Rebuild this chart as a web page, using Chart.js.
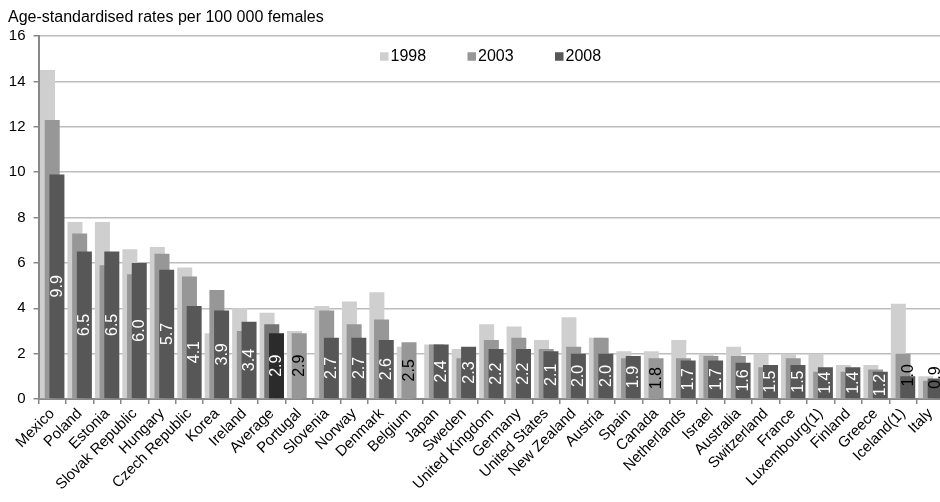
<!DOCTYPE html>
<html>
<head>
<meta charset="utf-8">
<title>Age-standardised rates per 100 000 females</title>
<script src="https://cdn.jsdelivr.net/npm/chart.js@4/dist/chart.umd.min.js"></script>
<style>
  html, body { margin: 0; padding: 0; background: #ffffff; overflow: hidden; }
  #wrap { position: relative; width: 950px; height: 502px; }
</style>
</head>
<body>
<div id="wrap"><canvas id="chart" width="950" height="502"></canvas></div>
<script>
// Countries, ordered by the 2008 rate (OECD average placed in the ranking)
const countries = [
  'Mexico', 'Poland', 'Estonia', 'Slovak Republic', 'Hungary', 'Czech Republic',
  'Korea', 'Ireland', 'Average', 'Portugal', 'Slovenia', 'Norway', 'Denmark',
  'Belgium', 'Japan', 'Sweden', 'United Kingdom', 'Germany', 'United States',
  'New Zealand', 'Austria', 'Spain', 'Canada', 'Netherlands', 'Israel',
  'Australia', 'Switzerland', 'France', 'Luxembourg(1)', 'Finland', 'Greece',
  'Iceland(1)', 'Italy'
];

const years = ['1998', '2003', '2008'];

// Age-standardised rates per 100 000 females
const rates1998 = [
  14.5, 7.8, 7.8, 6.6, 6.7, 5.8,
  2.9, 4.0, 3.8, 3.0, 4.1, 4.3, 4.7,
  2.3, 2.4, 2.2, 3.3, 3.2, 2.6,
  3.6, 2.7, 2.1, 2.1, 2.6, 2.0,
  2.3, 2.0, 2.0, 2.0, 1.5, 1.5,
  4.2, 1.0
];
const rates2003 = [
  12.3, 7.3, 5.9, 5.5, 6.4, 5.4,
  4.8, 3.0, 3.3, 2.9, 3.9, 3.3, 3.5,
  2.5, 2.4, 1.8, 2.6, 2.7, 2.2,
  2.3, 2.7, 1.8, 1.8, 1.8, 1.9,
  1.9, 1.4, 1.8, 1.2, 1.2, 1.3,
  2.0, 0.8
];
const rates2008 = [
  9.9, 6.5, 6.5, 6.0, 5.7, 4.1,
  3.9, 3.4, 2.9, null, 2.7, 2.7, 2.6,
  null, 2.4, 2.3, 2.2, 2.2, 2.1,
  2.0, 2.0, 1.9, null, 1.7, 1.7,
  1.6, 1.5, 1.5, 1.4, 1.4, 1.2,
  1.0, 0.9
];

const yTicks = [0, 2, 4, 6, 8, 10, 12, 14, 16];

const FONT = '"Liberation Sans", Arial, Helvetica, sans-serif';
const seriesColors = ['#cfcfcf', '#979797', '#575757'];
const averageColors = ['#cfcfcf', '#747474', '#2b2b2b'];
const series = [rates1998, rates2003, rates2008];

// Bars of a group overlap: each bar is 15px wide, the centres are ~4.7px apart.
const BAR_STEP = 4.7;
const BAR_WIDTH = 15;
const CATEGORY_WIDTH = (944.2 - 38.5) / countries.length;

const datasets = years.map((yr, k) => ({
  label: yr,
  data: series[k],
  backgroundColor: countries.map(c => c === 'Average' ? averageColors[k] : seriesColors[k]),
  borderWidth: 0,
  categoryPercentage: (BAR_STEP * years.length) / CATEGORY_WIDTH,
  barPercentage: BAR_WIDTH / BAR_STEP
}));

// Draw the series in dataset order so later years sit on top of earlier ones.
const layerOrder = {
  id: 'layerOrder',
  beforeDatasetsDraw(chart) {
    const a = chart.chartArea;
    const ctx = chart.ctx;
    ctx.save();
    ctx.beginPath();
    ctx.rect(a.left, a.top - 2, a.right - a.left, a.bottom - a.top + 2);
    ctx.clip();
    chart.data.datasets.forEach((ds, i) => {
      const meta = chart.getDatasetMeta(i);
      if (!meta.hidden) meta.controller.draw();
    });
    ctx.restore();
    return false;
  }
};

// Value of the most recent year, written vertically inside its bar.
const valueLabels = {
  id: 'valueLabels',
  afterDraw(chart) {
    const ctx = chart.ctx;
    ctx.save();
    ctx.font = '16px ' + FONT;
    ctx.textAlign = 'center';
    ctx.textBaseline = 'middle';
    countries.forEach((c, i) => {
      const k = rates2008[i] != null ? 2 : 1;
      const v = series[k][i];
      const bar = chart.getDatasetMeta(k).data[i];
      const text = v.toFixed(1);
      const len = ctx.measureText(text).width;
      const h = bar.base - bar.y;
      let cy = bar.y + h / 2;
      let color = k === 2 ? '#ffffff' : '#000000';
      if (len > h) { cy = bar.y - 1; color = '#000000'; }
      ctx.save();
      ctx.translate(bar.x + 0.5, cy);
      ctx.rotate(-Math.PI / 2);
      ctx.fillStyle = color;
      ctx.fillText(text, 0, 0);
      ctx.restore();
    });
    ctx.restore();
  }
};

// Legend row inside the plot area.
const yearLegend = {
  id: 'yearLegend',
  afterDraw(chart) {
    const ctx = chart.ctx;
    const startX = 380, stride = 87.5, y = 56.5, box = 8.5;
    ctx.save();
    ctx.font = '16px ' + FONT;
    ctx.textAlign = 'left';
    ctx.textBaseline = 'middle';
    chart.data.datasets.forEach((ds, i) => {
      const x = startX + i * stride;
      ctx.fillStyle = seriesColors[i];
      ctx.fillRect(x, y - box / 2, box, box);
      ctx.fillStyle = '#000000';
      ctx.fillText(ds.label, x + 10.5, y + 0.5);
    });
    ctx.restore();
  }
};

new Chart(document.getElementById('chart'), {
  type: 'bar',
  data: { labels: countries, datasets },
  plugins: [layerOrder, valueLabels, yearLegend],
  options: {
    responsive: false,
    animation: false,
    devicePixelRatio: 1,
    layout: { padding: { top: 8, left: 8, right: 950 - 944.2, bottom: 0 } },
    plugins: {
      legend: { display: false },
      tooltip: { enabled: false },
      title: {
        display: true,
        text: 'Age-standardised rates per 100 000 females',
        align: 'start',
        color: '#000000',
        font: { family: FONT, size: 16, weight: 'normal', lineHeight: 1.2 },
        padding: { top: 0, bottom: 8.8 }
      }
    },
    scales: {
      x: {
        type: 'category',
        offset: true,
        z: 1,
        grid: {
          offset: true,
          drawOnChartArea: false,
          drawTicks: true,
          tickLength: 5,
          color: '#888888',
          lineWidth: 1.5
        },
        border: { display: true, color: '#888888', width: 2 },
        ticks: {
          autoSkip: false,
          minRotation: 45,
          maxRotation: 45,
          padding: 1,
          color: '#000000',
          font: { family: FONT, size: 15 }
        },
        afterFit(scale) { scale.height = 103; }
      },
      y: {
        min: 0,
        max: 16,
        afterBuildTicks(scale) { scale.ticks = yTicks.map(v => ({ value: v })); },
        grid: {
          color: '#bdbdbd',
          lineWidth: 1.5,
          drawTicks: true,
          tickLength: 5,
          tickColor: '#888888'
        },
        border: { display: true, color: '#888888', width: 2 },
        ticks: {
          padding: 8,
          color: '#000000',
          font: { family: FONT, size: 15 }
        },
        afterFit(scale) { scale.width = 30.5; }
      }
    }
  }
});
</script>
</body>
</html>
